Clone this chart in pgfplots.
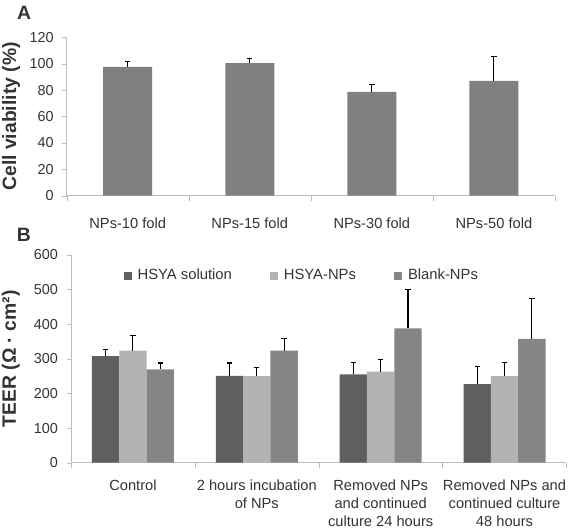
\documentclass[border=0pt]{standalone}
\usepackage{fontspec}
\setmainfont{Liberation Sans}
\usepackage{pgfplots}
\pgfplotsset{compat=1.18}
\definecolor{cdark}{HTML}{5F5F5F}
\definecolor{clight}{HTML}{B3B3B3}
\definecolor{cmid}{HTML}{858585}
\definecolor{ctop}{HTML}{808080}
\definecolor{caxis}{HTML}{BDBDBD}
\definecolor{ctext}{HTML}{333333}
\pgfplotsset{
  common/.style={
    scale only axis,
    axis x line*=bottom,
    axis y line*=left,
    axis line style={caxis,-},
    xmin=0.5, xmax=4.5,
    ymin=0,
    xtick={1,2,3,4},
    major x tick style={draw=none},
    minor xtick={0.5,1.5,2.5,3.5,4.5},
    minor x tick style={caxis},
    minor tick length=3.75pt,
    major tick length=3.3pt,
    y tick style={caxis},
    tick align=outside,
    /pgf/number format/assume math mode=true,
    yticklabel style={font=\fontsize{10.8}{13}\selectfont, text=ctext, xshift=-3pt},
    xticklabel style={font=\fontsize{11}{13.4}\selectfont, text=ctext, align=center},
    ylabel style={font=\bfseries\fontsize{14.5}{16}\selectfont, text=ctext},
    error bars/y dir=plus,
    error bars/y explicit,
    error bars/error bar style={black, line width=0.8pt},
    error bars/error mark options={black, line width=0.8pt, rotate=90, mark size=2pt},
    clip=false,
  }
}
\begin{document}
\begin{tikzpicture}
\useasboundingbox (0,0) rectangle (426.75pt,396.75pt);
% Panel A
\begin{axis}[common,
  at={(50pt,250pt)}, anchor=south west,
  width=366.2pt, height=118.8pt,
  ymax=120, ytick={0,20,...,120},
  xticklabels={NPs-10 fold,NPs-15 fold,NPs-30 fold,NPs-50 fold},
  xticklabel style={yshift=-10pt},
  ylabel={Cell viability (\%)},
  ylabel style={at={(axis description cs:-0.114,0.5)}, anchor=center},
  ybar, bar width=36.75pt,
]
\addplot[fill=ctop, draw=none] coordinates {
  (1,97.6) +- (0,4.0)
  (2,100.4) +- (0,3.6)
  (3,78.6) +- (0,5.8)
  (4,86.9) +- (0,18.2)
};
\node[font=\bfseries\fontsize{14.5}{16}\selectfont, text=ctext, anchor=north west, inner sep=0pt] at (rel axis cs:-0.102,1.195) {A};
\end{axis}
% Panel B
\begin{axis}[common,
  at={(53.25pt,49.7pt)}, anchor=south west,
  width=371.6pt, height=155.8pt,
  ymax=600, ytick={0,100,...,600},
  xticklabels={Control,2 hours incubation\\of NPs,Removed NPs\\and continued\\culture 24 hours,Removed NPs and\\continued culture\\48 hours},
  xticklabel style={yshift=-6pt},
  ylabel={TEER (Ω · cm²)},
  ylabel style={at={(axis description cs:-0.1215,0.5)}, anchor=center},
  ybar=0pt, bar width=20.5pt,
  legend style={draw=none, fill=none, legend columns=3, inner sep=0pt,
    at={(rel axis cs:0.1056,0.901)}, anchor=west,
    font=\fontsize{11.1}{13}\selectfont, text=ctext,
    /tikz/every odd column/.append style={column sep=2.5pt},
    /tikz/every even column/.append style={column sep=26.5pt}},
  legend image code/.code={\fill[#1] (0pt,-3pt) rectangle (6pt,3pt);},
]
\addplot[fill=cdark, draw=none] coordinates {
  (1,308) +- (0,20)
  (2,251) +- (0,37)
  (3,255) +- (0,34)
  (4,227) +- (0,50)
};
\addplot[fill=clight, draw=none] coordinates {
  (1,324) +- (0,43)
  (2,250) +- (0,26)
  (3,263) +- (0,34)
  (4,250) +- (0,39)
};
\addplot[fill=cmid, draw=none] coordinates {
  (1,270) +- (0,18)
  (2,324) +- (0,34)
  (3,388) +- (0,113)
  (4,358) +- (0,116)
};
\legend{HSYA solution,HSYA-NPs,Blank-NPs}
\node[font=\bfseries\fontsize{14.5}{16}\selectfont, text=ctext, anchor=north west, inner sep=0pt] at (rel axis cs:-0.1096,1.13) {B};
\end{axis}
\end{tikzpicture}
\end{document}
